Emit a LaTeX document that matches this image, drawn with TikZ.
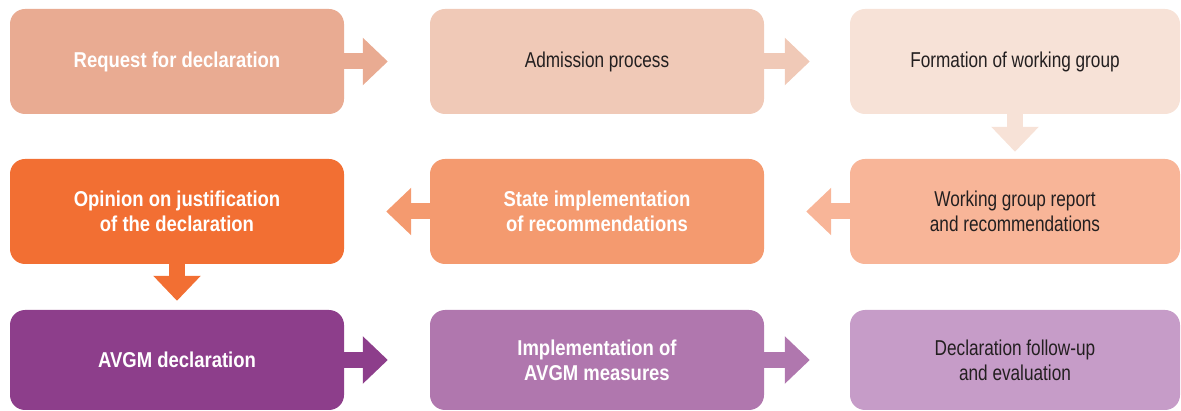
\documentclass[tikz,border=0pt]{standalone}
\usepackage{fontspec}
\setmainfont{Liberation Sans}[FakeStretch=0.8,BoldFeatures={FakeStretch=0.86}]
\usetikzlibrary{arrows.meta}

\definecolor{ink}{HTML}{231F20}
\definecolor{req}{HTML}{E9AB92}
\definecolor{adm}{HTML}{F0C9B7}
\definecolor{form}{HTML}{F7E2D7}
\definecolor{rep}{HTML}{F8B598}
\definecolor{impl}{HTML}{F49A6F}
\definecolor{opin}{HTML}{F26F33}
\definecolor{decl}{HTML}{8D3E8B}
\definecolor{meas}{HTML}{B077AE}
\definecolor{eval}{HTML}{C69CC8}

\begin{document}
\begin{tikzpicture}
  [x=1pt,y=-1pt,
   box/.style={rounded corners=15pt,minimum width=334pt,minimum height=105pt,
     inner sep=0pt,align=center,font=\fontsize{21.5}{25}\selectfont},
   light/.style={box,text=ink},
   strong/.style={box,text=white,font=\fontsize{21.5}{25}\selectfont\bfseries},
   flow/.style={line width=16pt,-{Triangle[width=46pt,length=25pt]}}]
  \useasboundingbox (0,0) rectangle (1181,411);

  \node[strong,fill=req] (n1) at (177,61.5)  {Request for declaration};
  \node[light,fill=adm]  (n2) at (597,61.5)  {Admission process};
  \node[light,fill=form,minimum width=330pt] (n3) at (1015,61.5) {Formation of working group};
  \node[light,fill=rep,minimum width=330pt]  (n4) at (1015,211.5) {Working group report\\and recommendations};
  \node[strong,fill=impl] (n5) at (597,211.5) {State implementation\\of recommendations};
  \node[strong,fill=opin] (n6) at (177,211.5) {Opinion on justification\\of the declaration};
  \node[strong,fill=decl,minimum height=100pt] (n7) at (177,360) {AVGM declaration};
  \node[strong,fill=meas,minimum height=100pt] (n8) at (597,360) {Implementation of\\AVGM measures};
  \node[light,fill=eval,minimum height=100pt,minimum width=330pt] (n9) at (1015,360) {Declaration follow-up\\and evaluation};

  \foreach \from/\to/\col/\gap in {n1/n2/req/42,n2/n3/adm/40,n3/n4/form/7,n4/n5/rep/42,
                                   n5/n6/impl/42,n6/n7/opin/9,n7/n8/decl/42,n8/n9/meas/40}
    \draw[flow,color=\col,shorten >=\gap pt] (\from) -- (\to);

\end{tikzpicture}
\end{document}
